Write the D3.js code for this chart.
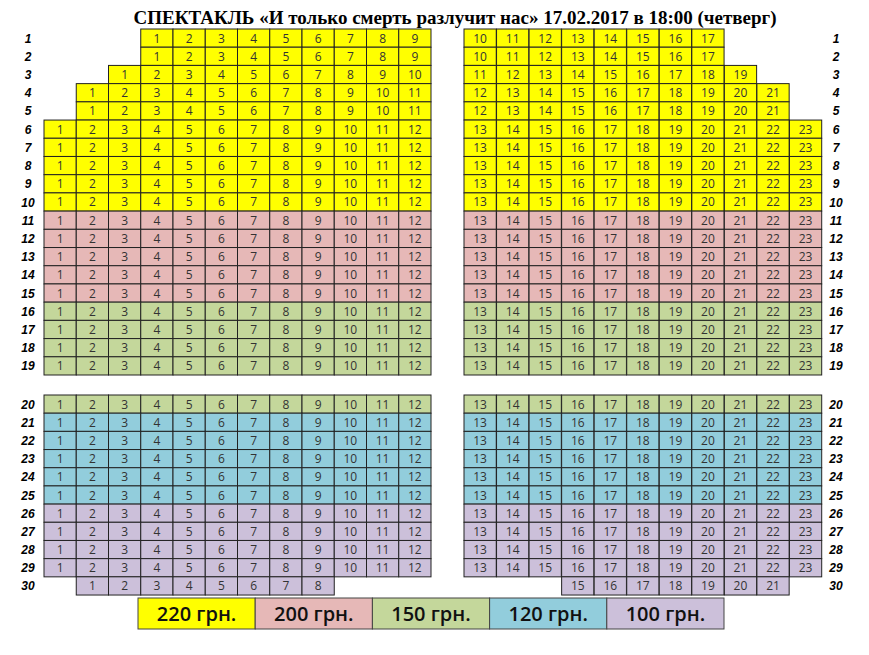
<!DOCTYPE html>
<html><head><meta charset="utf-8">
<script src="https://cdn.jsdelivr.net/npm/d3@7"></script>
<style>body{margin:0;background:#fff}</style></head>
<body><div id="chart"></div>
<script>
// row numbers and price group per row
const rows = d3.range(1, 31)
const rowPrice = [220,220,220,220,220,220,220,220,220,220, 200,200,200,200,200, 150,150,150,150, 150, 120,120,120,120,120, 100,100,100,100,100]
// left block: first column, first seat number, last seat number
const leftStartCol = [4,4,3,2,2, 1,1,1,1,1,1,1,1,1,1,1,1,1,1,1,1,1,1,1,1,1,1,1,1, 2]
const leftFirstSeat = [1,1,1,1,1, 1,1,1,1,1,1,1,1,1,1,1,1,1,1,1,1,1,1,1,1,1,1,1,1, 1]
const leftLastSeat = [9,9,10,11,11, 12,12,12,12,12,12,12,12,12,12,12,12,12,12,12,12,12,12,12,12,12,12,12,12, 8]
// right block: first column, first seat, last seat
const rightStartCol = [13,13,13,13,13, 13,13,13,13,13,13,13,13,13,13,13,13,13,13,13,13,13,13,13,13,13,13,13,13, 16]
const rightFirstSeat = [10,10,11,12,12, 13,13,13,13,13,13,13,13,13,13,13,13,13,13,13,13,13,13,13,13,13,13,13,13, 15]
const rightLastSeat = [17,17,19,21,21, 23,23,23,23,23,23,23,23,23,23,23,23,23,23,23,23,23,23,23,23,23,23,23,23, 21]
const prices = [220, 200, 150, 120, 100]
const priceLabels = ['220 грн.', '200 грн.', '150 грн.', '120 грн.', '100 грн.']
const priceColors = ['#ffff00', '#e6b8b7', '#c4d79b', '#92cddc', '#ccc0da']

const W = 869, H = 655
const svg = d3.select('#chart').append('svg').attr('width', W).attr('height', H)
const color = d3.scaleOrdinal().domain(prices).range(priceColors)

const xLeft = d3.scaleBand().domain(d3.range(1, 13)).range([44, 431])
const xRight = d3.scaleBand().domain(d3.range(13, 24)).range([464, 822])
const xCol = c => c <= 12 ? xLeft(c) : xRight(c)
const yTop = d3.scaleBand().domain(d3.range(1, 20)).range([29, 375])
const yBot = d3.scaleBand().domain(d3.range(20, 31)).range([395, 595])
const yRow = r => r <= 19 ? yTop(r) : yBot(r)
const cw = xLeft.bandwidth(), rh = yTop.bandwidth()

svg.append('text').attr('x', 455).attr('y', 24).attr('text-anchor', 'middle')
  .attr('font-family', 'Liberation Serif, serif').attr('font-weight', 'bold').attr('font-size', 19)
  .text('СПЕКТАКЛЬ «И только смерть разлучит нас»  17.02.2017 в 18:00 (четверг)')

const seats = []
rows.forEach((r, i) => {
  for (let s = leftFirstSeat[i]; s <= leftLastSeat[i]; s++)
    seats.push({ row: r, seat: s, col: leftStartCol[i] + s - leftFirstSeat[i], price: rowPrice[i] })
  for (let s = rightFirstSeat[i]; s <= rightLastSeat[i]; s++)
    seats.push({ row: r, seat: s, col: rightStartCol[i] + s - rightFirstSeat[i], price: rowPrice[i] })
})

const cells = svg.selectAll('g.seat').data(seats).enter().append('g').attr('class', 'seat')
  .attr('transform', d => `translate(${xCol(d.col)},${yRow(d.row)})`)
cells.append('rect').attr('width', cw).attr('height', rh)
  .attr('fill', d => color(d.price)).attr('stroke', '#222').attr('stroke-width', 1)
cells.append('text').attr('x', cw / 2).attr('y', rh / 2 + 4.5).attr('text-anchor', 'middle')
  .attr('font-family', 'Open Sans, sans-serif').attr('font-size', 12).attr('fill', '#333')
  .text(d => d.seat)

// row labels on both sides
;[28, 836].forEach(x => {
  svg.selectAll(null).data(rows).enter().append('text')
    .attr('x', x).attr('y', r => yRow(r) + rh / 2 + 4.5).attr('text-anchor', 'middle')
    .attr('font-family', 'Liberation Sans, sans-serif').attr('font-weight', 'bold').attr('font-style', 'italic')
    .attr('font-size', 12).text(r => r)
})

// price legend
const xLeg = d3.scaleBand().domain(prices).range([138, 724])
const leg = svg.selectAll('g.leg').data(prices).enter().append('g').attr('class', 'leg')
  .attr('transform', d => `translate(${xLeg(d)},598)`)
leg.append('rect').attr('width', xLeg.bandwidth()).attr('height', 31)
  .attr('fill', d => color(d)).attr('stroke', '#444')
leg.append('text').attr('x', xLeg.bandwidth() / 2).attr('y', 23).attr('text-anchor', 'middle')
  .attr('font-family', 'Open Sans, sans-serif').attr('font-weight', 600).attr('font-size', 20).attr('fill', '#111')
  .text((d, i) => priceLabels[i])
</script></body></html>
